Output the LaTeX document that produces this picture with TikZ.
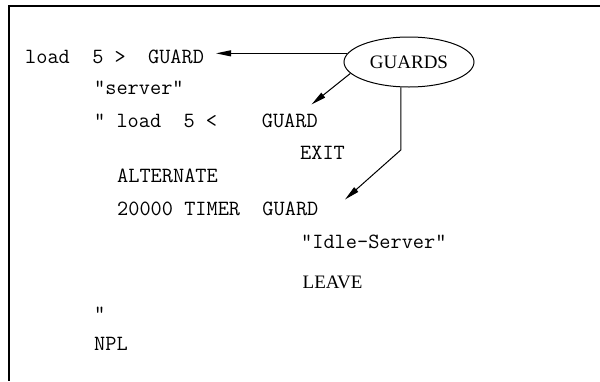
\documentclass[tikz,border=0pt]{standalone}
\usepackage{fontspec}
\setmainfont{Liberation Serif}
\usetikzlibrary{arrows.meta,shapes.geometric}
\frenchspacing
\begin{document}
\begin{tikzpicture}[x=1pt,y=-1pt,
  code/.style={anchor=base west,inner sep=0pt,font=\ttfamily\fontsize{21.7}{24}\selectfont},
  word/.style={anchor=base west,inner sep=0pt,font=\fontsize{19}{22}\selectfont},
  link/.style={line width=1pt,-{Triangle[length=15pt,width=6pt]}},
  frame/.style={line width=1.6pt}]
\useasboundingbox (0,0) rectangle (600,381);
% partial frame: top edge and left edge
\draw[frame] (600,6) -- (9,6) -- (9,381);

% program text
\node[code] (l1) at (25,63) {load~~5~>~~GUARD};
\node[code] (l2) at (94,94) {"server"};
\node[code] (l3) at (94,127) {"~load~~5~<~~~~GUARD};
\node[code] (l4) at (300,159) {EXIT};
\node[code] (l5) at (117,182) {ALTERNATE};
\node[code] (l6) at (117,215) {20000~TIMER~~GUARD};
\node[code] (l7) at (301,248) {"Idle-Server"};
\node[word] (l8) at (302.5,288) {LEAVE};
\node[code] (l9) at (94,320) {"};
\node[code] (l10) at (94,350) {NPL};

% the GUARDS bubble and its pointers
\node[draw,ellipse,line width=1pt,minimum width=130pt,minimum height=50pt,inner sep=0pt,
      font=\fontsize{19}{22}\selectfont] (guards) at (409,62) {GUARDS};

\coordinate (t1) at (216,0);
\coordinate (t2) at (311.5,104.5);
\coordinate (t3) at (345,199.5);
\coordinate (k3) at (0,150);

\draw[link] (guards.172) -- (guards.172 -| t1);
\draw[link] (guards.191) -- (t2);
\draw[link] (guards.252) -- (guards.252 |- k3) -- (t3);
\end{tikzpicture}
\end{document}
